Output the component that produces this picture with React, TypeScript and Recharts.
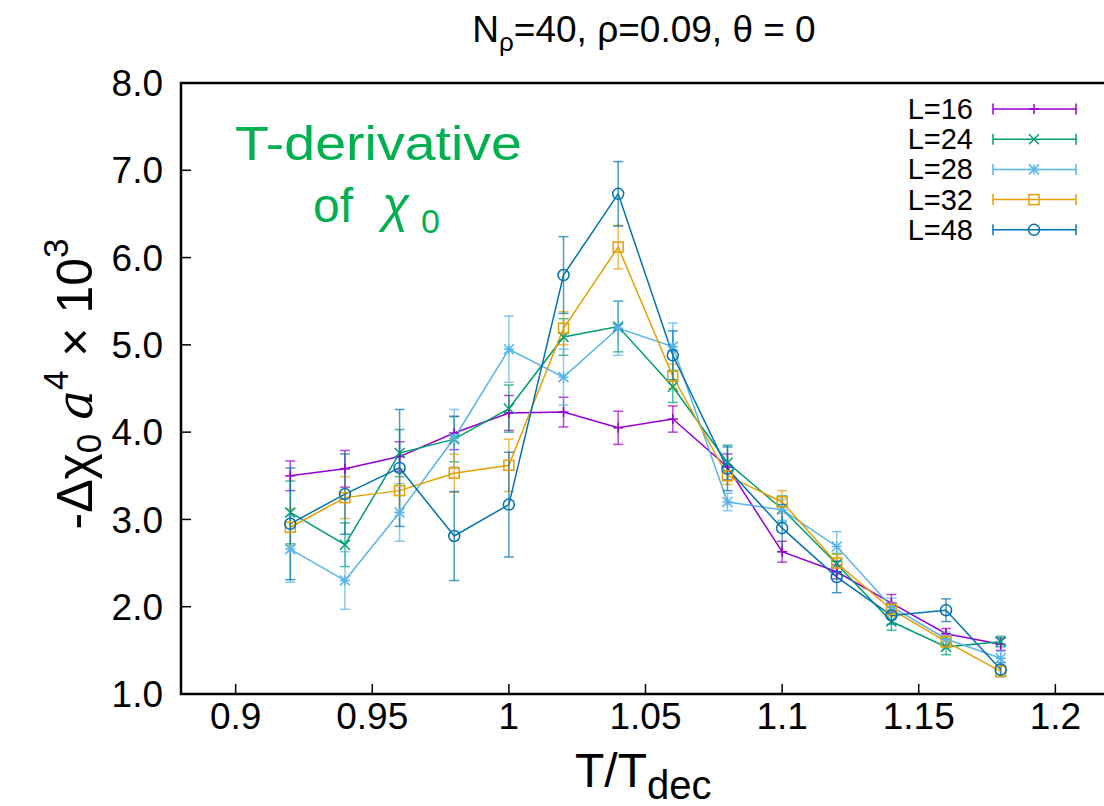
import React from 'react';
import {
  LineChart, Line, XAxis, YAxis, ErrorBar, ReferenceArea,
} from 'recharts';

// temperature points T/Tdec
const TEMPS = [0.92, 0.94, 0.96, 0.98, 1.0, 1.02, 1.04, 1.06, 1.08, 1.1, 1.12, 1.14, 1.16, 1.18];

const L16 = [3.50, 3.58, 3.72, 3.99, 4.22, 4.23, 4.05, 4.15, 3.60, 2.63, 2.40, 2.04, 1.69, 1.57];
const ERR16 = [0.17, 0.21, 0.17, 0.19, 0.20, 0.17, 0.19, 0.15, 0.15, 0.12, 0.08, 0.10, 0.06, 0.07];

const L24 = [3.08, 2.71, 3.76, 3.92, 4.27, 5.09, 5.21, 4.52, 3.65, 3.12, 2.49, 1.83, 1.54, 1.60];
const ERR24 = [0.36, 0.25, 0.27, 0.26, 0.27, 0.21, 0.29, 0.18, 0.20, 0.15, 0.12, 0.10, 0.09, 0.06];

const L28 = [2.66, 2.30, 3.08, 3.93, 4.95, 4.63, 5.19, 4.98, 3.20, 3.11, 2.69, 2.00, 1.63, 1.41];
const ERR28 = [0.38, 0.33, 0.33, 0.33, 0.38, 0.32, 0.31, 0.27, 0.10, 0.12, 0.17, 0.10, 0.08, 0.08];

const L32 = [2.91, 3.25, 3.33, 3.53, 3.62, 5.19, 6.12, 4.64, 3.50, 3.20, 2.50, 1.97, 1.60, 1.26];
const ERR32 = [0.21, 0.24, 0.25, 0.22, 0.30, 0.19, 0.25, 0.14, 0.10, 0.13, 0.10, 0.08, 0.07, 0.06];

const L48 = [2.95, 3.29, 3.59, 2.81, 3.17, 5.80, 6.73, 4.88, 3.58, 2.90, 2.34, 1.90, 1.96, 1.28];
const ERR48 = [0.64, 0.46, 0.67, 0.51, 0.60, 0.44, 0.37, 0.28, 0.25, 0.27, 0.18, 0.10, 0.13, 0.08];

const X_TICKS = [0.9, 0.95, 1, 1.05, 1.1, 1.15, 1.2];
const Y_TICKS = [1, 2, 3, 4, 5, 6, 7, 8];

const SERIES = [
  { name: 'L=16', key: 'v16', errKey: 'e16', values: L16, errors: ERR16, color: '#9400d3', marker: 'plus' },
  { name: 'L=24', key: 'v24', errKey: 'e24', values: L24, errors: ERR24, color: '#009e73', marker: 'cross' },
  { name: 'L=28', key: 'v28', errKey: 'e28', values: L28, errors: ERR28, color: '#56b4e9', marker: 'star' },
  { name: 'L=32', key: 'v32', errKey: 'e32', values: L32, errors: ERR32, color: '#e69f00', marker: 'square' },
  { name: 'L=48', key: 'v48', errKey: 'e48', values: L48, errors: ERR48, color: '#0072b2', marker: 'circle' },
];

const data = TEMPS.map((t, i) => {
  const row: Record<string, number> = { t };
  SERIES.forEach(s => {
    row[s.key] = s.values[i];
    row[s.errKey] = s.errors[i];
  });
  return row;
});

const FONT = '"Liberation Sans", Arial, sans-serif';
const GREEN = '#00b050';

const Marker = ({ kind, cx, cy, color }: { kind: string; cx: number; cy: number; color: string }) => {
  const s = 5;
  const common = { stroke: color, strokeWidth: 1.5, fill: 'none' };
  if (kind === 'plus') {
    return (
      <g {...common}>
        <line x1={cx - s} y1={cy} x2={cx + s} y2={cy} />
        <line x1={cx} y1={cy - s} x2={cx} y2={cy + s} />
      </g>
    );
  }
  if (kind === 'cross') {
    return (
      <g {...common}>
        <line x1={cx - s} y1={cy - s} x2={cx + s} y2={cy + s} />
        <line x1={cx - s} y1={cy + s} x2={cx + s} y2={cy - s} />
      </g>
    );
  }
  if (kind === 'star') {
    return (
      <g {...common}>
        <line x1={cx - s} y1={cy} x2={cx + s} y2={cy} />
        <line x1={cx} y1={cy - s} x2={cx} y2={cy + s} />
        <line x1={cx - s} y1={cy - s} x2={cx + s} y2={cy + s} />
        <line x1={cx - s} y1={cy + s} x2={cx + s} y2={cy - s} />
      </g>
    );
  }
  if (kind === 'square') {
    return <rect x={cx - s} y={cy - s} width={2 * s} height={2 * s} {...common} />;
  }
  return <circle cx={cx} cy={cy} r={5.5} {...common} />;
};

const Legend = () => (
  <svg width={1104} height={806} style={{ position: 'absolute', left: 0, top: 0, pointerEvents: 'none' }}>
    {SERIES.map((s, i) => {
      const y = 109 + i * 30.2;
      return (
        <g key={s.key}>
          <text x={973} y={y + 10} textAnchor="end" fontSize={29} fontFamily={FONT} fill="#000">{s.name}</text>
          <line x1={993} y1={y} x2={1076} y2={y} stroke={s.color} strokeWidth={1.5} />
          <line x1={993} y1={y - 5.5} x2={993} y2={y + 5.5} stroke={s.color} strokeWidth={1.5} />
          <line x1={1076} y1={y - 5.5} x2={1076} y2={y + 5.5} stroke={s.color} strokeWidth={1.5} />
          <Marker kind={s.marker} cx={1034} cy={y} color={s.color} />
        </g>
      );
    })}
  </svg>
);

const Labels = () => (
  <svg width={1104} height={806} style={{ position: 'absolute', left: 0, top: 0, pointerEvents: 'none' }}>
    {/* title */}
    <text x={644} y={42} textAnchor="middle" fontSize={37} fontFamily={FONT} fill="#000">
      N<tspan fontSize={26} dy={9}>ρ</tspan><tspan dy={-9}>=40, ρ=0.09, θ = 0</tspan>
    </text>
    {/* x label */}
    <text x={575} y={787} fontSize={48} fontFamily={FONT} fill="#000">
      T/T<tspan fontSize={40} dy={12}>dec</tspan>
    </text>
    {/* y label */}
    <text transform="translate(92,384) rotate(-90)" textAnchor="middle" fontSize={50} fontFamily={FONT} fill="#000">
      -Δχ<tspan fontSize={35} dy={9}>0</tspan><tspan dy={-9}> </tspan><tspan fontStyle="italic" fontFamily="'DejaVu Serif', serif">a</tspan>
      <tspan fontSize={35} dy={-24}>4</tspan><tspan dy={24}> × 10</tspan><tspan fontSize={35} dy={-24}>3</tspan>
    </text>
    {/* annotation */}
    <text x={235} y={160} fontSize={48} fontFamily={FONT} fill={GREEN}
      textLength={287} lengthAdjust="spacingAndGlyphs">T-derivative</text>
    <text x={313} y={222} fontSize={48} fontFamily={FONT} fill={GREEN}>of</text>
    <text x={382} y={222} fontSize={50} fontStyle="italic" fontFamily={FONT} fill={GREEN}>χ</text>
    <text x={421} y={233} fontSize={34} fontFamily={FONT} fill={GREEN}>0</text>
  </svg>
);

export default function App() {
  return (
    <div style={{ position: 'absolute', left: 0, top: 0, width: 1104, height: 806, overflow: 'hidden', background: '#fff' }}>
      <LineChart width={1120} height={806} data={data} margin={{ top: 83, right: 10, bottom: 52, left: 81 }}>
        <XAxis
          dataKey="t" type="number" domain={[0.88, 1.22]} ticks={X_TICKS} allowDataOverflow
          height={60} axisLine={false} tickSize={-10} tickMargin={19}
          tickLine={{ stroke: '#000', strokeWidth: 1.5 }}
          tick={{ fontSize: 37, fill: '#000', fontFamily: FONT }}
          tickFormatter={(v: number) => String(v)}
        />
        <XAxis
          xAxisId="top" orientation="top" type="number" domain={[0.88, 1.22]} ticks={X_TICKS} allowDataOverflow
          height={0} axisLine={false} tickSize={-10} tick={false}
          tickLine={{ stroke: '#000', strokeWidth: 1.5 }}
        />
        <YAxis
          type="number" domain={[1, 8]} ticks={Y_TICKS} allowDataOverflow
          width={100} axisLine={false} tickSize={-10} tickMargin={28}
          tickLine={{ stroke: '#000', strokeWidth: 1.5 }}
          tick={{ fontSize: 37, fill: '#000', fontFamily: FONT }}
          tickFormatter={(v: number) => v.toFixed(1)}
        />
        <YAxis
          yAxisId="right" orientation="right" type="number" domain={[1, 8]} ticks={Y_TICKS} allowDataOverflow
          width={0} axisLine={false} tickSize={-10} tick={false}
          tickLine={{ stroke: '#000', strokeWidth: 1.5 }}
        />
        <ReferenceArea x1={0.88} x2={1.22} y1={1} y2={8} fill="none" stroke="#000" strokeWidth={2.5} ifOverflow="visible" />
        {SERIES.map(s => (
          <Line
            key={s.key}
            dataKey={s.key}
            stroke={s.color}
            strokeWidth={1.5}
            isAnimationActive={false}
            dot={(p: any) => <Marker key={`${s.key}-${p.index}`} kind={s.marker} cx={p.cx} cy={p.cy} color={s.color} />}
            activeDot={false}
          >
            <ErrorBar dataKey={s.errKey} direction="y" width={5} stroke={s.color} strokeWidth={1.5} strokeOpacity={0.7} isAnimationActive={false} />
          </Line>
        ))}
      </LineChart>
      <Legend />
      <Labels />
    </div>
  );
}
